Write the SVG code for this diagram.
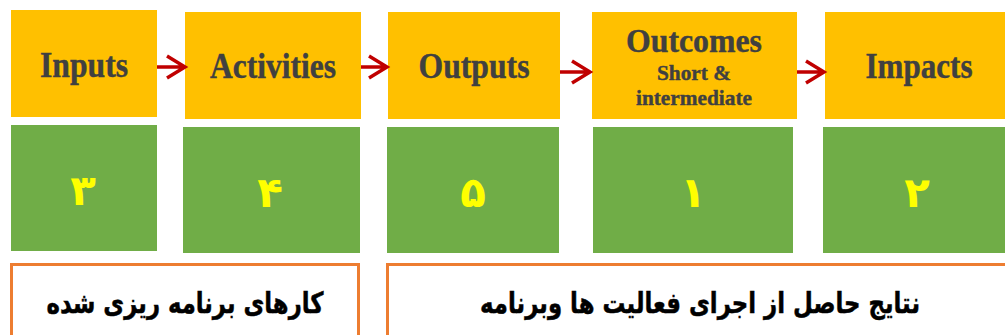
<svg xmlns="http://www.w3.org/2000/svg" width="1005" height="335" viewBox="0 0 1005 335">
<style>
.y{fill:#FFC000}
.g{fill:#70AD47}
.o{fill:#FFFFFF;stroke:#ED7D31;stroke-width:3}
.t{font-family:"Liberation Serif","Times New Roman",serif;font-weight:bold;fill:#404040;text-anchor:middle;stroke:#404040;stroke-width:0.4}
.n{font-family:"DejaVu Sans",sans-serif;font-weight:bold;fill:#FFFF00;font-size:42px;text-anchor:middle}
.p{font-family:"DejaVu Sans","Noto Sans",sans-serif;font-weight:bold;fill:#000000;font-size:29px;text-anchor:middle;stroke:#000000;stroke-width:0.5}
.a{fill:none;stroke:#C00000;stroke-width:3.5}
</style>
<rect width="1005" height="335" fill="#FFFFFF"/>
<g id="inputs"><rect class="y" x="11" y="10" width="146" height="107"/><text class="t" x="84" y="77" font-size="35" textLength="88" lengthAdjust="spacingAndGlyphs">Inputs</text></g>
<g id="activities"><rect class="y" x="185" y="12" width="176" height="107"/><text class="t" x="273" y="78" font-size="35" textLength="126" lengthAdjust="spacingAndGlyphs">Activities</text></g>
<g id="outputs"><rect class="y" x="388" y="12" width="172" height="107"/><text class="t" x="474" y="78" font-size="35" textLength="111" lengthAdjust="spacingAndGlyphs">Outputs</text></g>
<g id="outcomes"><rect class="y" x="592" y="12" width="205" height="107"/><text class="t" x="694" y="52" font-size="33" textLength="136" lengthAdjust="spacingAndGlyphs">Outcomes</text><text class="t" x="694" y="80" font-size="21" textLength="74" lengthAdjust="spacingAndGlyphs">Short &amp;</text><text class="t" x="694" y="105" font-size="21" textLength="116" lengthAdjust="spacingAndGlyphs">intermediate</text></g>
<g id="impacts"><rect class="y" x="825" y="12" width="180" height="107"/><text class="t" x="919" y="78" font-size="35" textLength="107" lengthAdjust="spacingAndGlyphs">Impacts</text></g>
<g id="n3"><rect class="g" x="11" y="125" width="146" height="126"/><text class="n" x="83" y="205">۳</text></g>
<g id="n4"><rect class="g" x="183" y="127" width="177" height="126"/><text class="n" x="270" y="207">۴</text></g>
<g id="n5"><rect class="g" x="387" y="127" width="172" height="126"/><text class="n" x="473" y="207">۵</text></g>
<g id="n1"><rect class="g" x="593" y="127" width="200" height="126"/><text class="n" x="693" y="207">۱</text></g>
<g id="n2"><rect class="g" x="823" y="127" width="182" height="126"/><text class="n" x="917" y="207">۲</text></g>
<g id="planned"><rect class="o" x="11.5" y="264.5" width="347" height="80"/><text class="p" x="185" y="313" textLength="277" lengthAdjust="spacingAndGlyphs">کارهای برنامه ریزی شده</text></g>
<g id="results"><rect class="o" x="387.5" y="264.5" width="630" height="80"/><text class="p" x="700" y="313" textLength="440" lengthAdjust="spacingAndGlyphs">نتایج حاصل از اجرای فعالیت ها وبرنامه</text></g>
<g id="connectors">
<path class="a" d="M157 67H185M167 56L185 67L167 78"/>
<path class="a" d="M361 67H387M369 56L387 67L369 78"/>
<path class="a" d="M560 72H590M572 61L590 72L572 83"/>
<path class="a" d="M797 72H824M806 61L824 72L806 83"/>
</g>
</svg>
